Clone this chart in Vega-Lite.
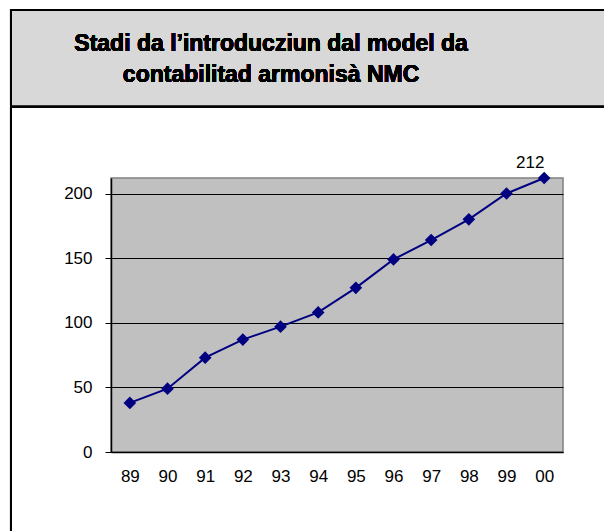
{
  "$schema": "https://vega.github.io/schema/vega-lite/v6.json",
  "autosize": {"type": "none"},
  "padding": {"left": 111, "top": 178, "right": 41, "bottom": 79},
  "width": 452,
  "height": 274,
  "background": "white",
  "config": {
    "view": {"fill": "#c0c0c0", "stroke": "#808080", "strokeWidth": 1.5},
    "font": "Liberation Sans"
  },
  "data": {
    "values": [
      {"year": 1989, "value": 38},
      {"year": 1990, "value": 49},
      {"year": 1991, "value": 73},
      {"year": 1992, "value": 87},
      {"year": 1993, "value": 97},
      {"year": 1994, "value": 108},
      {"year": 1995, "value": 127},
      {"year": 1996, "value": 149},
      {"year": 1997, "value": 164},
      {"year": 1998, "value": 180},
      {"year": 1999, "value": 200},
      {"year": 2000, "value": 212}
    ]
  },
  "encoding": {
    "x": {
      "field": "year",
      "type": "quantitative",
      "scale": {"domain": [1988.5, 2000.5], "nice": false, "zero": false},
      "axis": {
        "title": null,
        "values": [1989, 1990, 1991, 1992, 1993, 1994, 1995, 1996, 1997, 1998, 1999, 2000],
        "labelExpr": "substring(format(datum.value, 'd'), 2)",
        "grid": false,
        "ticks": false,
        "domain": true,
        "domainColor": "black",
        "domainWidth": 1.5,
        "labelFont": "Liberation Sans",
        "labelFontSize": 17,
        "labelColor": "black",
        "labelPadding": 16,
        "labelFlush": false,
        "labelOverlap": false
      }
    },
    "y": {
      "field": "value",
      "type": "quantitative",
      "scale": {"domain": [0, 212], "nice": false, "zero": true},
      "axis": {
        "title": null,
        "values": [0, 50, 100, 150, 200],
        "grid": true,
        "gridColor": "black",
        "gridWidth": 1,
        "gridOpacity": 1,
        "domain": true,
        "domainColor": "black",
        "domainWidth": 1.5,
        "ticks": true,
        "tickSize": 6,
        "tickColor": "black",
        "tickWidth": 1,
        "labelFont": "Liberation Sans",
        "labelFontSize": 17,
        "labelColor": "black",
        "labelPadding": 13,
        "labelFlush": false,
        "labelOverlap": false
      }
    }
  },
  "layer": [
    {
      "mark": {"type": "rect", "fill": "#d8d8d8", "stroke": "black", "strokeWidth": 2, "clip": false},
      "encoding": {
        "x": {"datum": 1985.845, "type": "quantitative"},
        "x2": {"datum": 2003.5},
        "y": {"datum": 342.0, "type": "quantitative"},
        "y2": {"datum": 267.55}
      }
    },
    {
      "mark": {"type": "rule", "color": "black", "strokeWidth": 2, "clip": false},
      "encoding": {
        "x": {"datum": 1985.845, "type": "quantitative"},
        "y": {"datum": 267.55, "type": "quantitative"},
        "y2": {"datum": -120}
      }
    },
    {
      "mark": {
        "type": "text",
        "text": ["Stadi da l’introducziun dal model da", "contabilitad armonisà NMC"],
        "font": "Liberation Sans",
        "fontSize": 23,
        "fontWeight": "bold",
        "fill": "black",
        "align": "center",
        "baseline": "alphabetic",
        "lineHeight": 31,
        "clip": false
      },
      "encoding": {
        "x": {"datum": 1992.75, "type": "quantitative"},
        "y": {"datum": 310.0, "type": "quantitative"}
      }
    },
    {
      "mark": {"type": "line", "color": "#000080", "strokeWidth": 2},
      "encoding": {}
    },
    {
      "mark": {"type": "point", "shape": "diamond", "size": 160, "filled": true, "color": "#000080", "opacity": 1},
      "encoding": {}
    },
    {
      "transform": [{"filter": "datum.year == 2000"}],
      "mark": {
        "type": "text",
        "font": "Liberation Sans",
        "fontSize": 17,
        "color": "black",
        "align": "center",
        "baseline": "alphabetic",
        "dx": -14,
        "dy": -10,
        "clip": false
      },
      "encoding": {
        "text": {"field": "value", "type": "quantitative"}
      }
    }
  ]
}
